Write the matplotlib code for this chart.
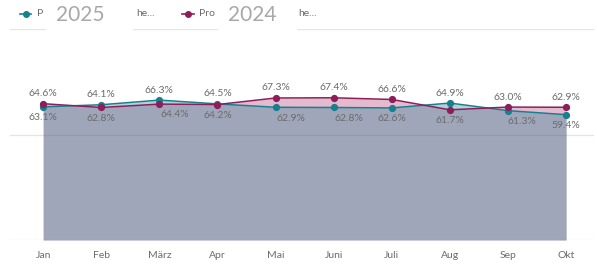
import matplotlib.pyplot as plt
from matplotlib.lines import Line2D
from matplotlib.patches import Rectangle

months = ["Jan", "Feb", "März", "Apr", "Mai", "Juni", "Juli", "Aug", "Sep", "Okt"]
y2025 = [63.1, 64.1, 66.3, 64.5, 62.9, 62.8, 62.6, 64.9, 61.3, 59.4]
y2024 = [64.6, 62.8, 64.4, 64.2, 67.3, 67.4, 66.6, 61.7, 63.0, 62.9]

teal = "#17808f"
maroon = "#8e1e5a"
grey_txt = "#6b6b6b"

plt.rcParams["font.family"] = ["Lato", "DejaVu Sans"]

W, H = 597, 266
fig = plt.figure(figsize=(W / 100, H / 100), dpi=100)
ax = fig.add_axes([10 / W, 26 / H, 584 / W, 211 / H])

x = list(range(len(months)))

# area fills (alpha overlap gives the grey-blue base)
ax.fill_between(x, 0, y2024, color="#a8205f", alpha=0.3, linewidth=0, zorder=2)
ax.fill_between(x, 0, y2025, color="#1a7f94", alpha=0.34, linewidth=0, zorder=2)

ax.plot(x, y2025, color=teal, lw=1.1, marker="o", ms=4.2, zorder=4)
ax.plot(x, y2024, color=maroon, lw=1.1, marker="o", ms=4.2, zorder=5)

# gridlines
for g in (0, 50, 100):
    ax.axhline(g, color="#e4e4e4", lw=0.9, zorder=1)

# data labels: higher value above, lower below
nudge = {2: 11, 4: 11, 5: 11, 8: 10}
for i in x:
    hi, lo = max(y2025[i], y2024[i]), min(y2025[i], y2024[i])
    ax.annotate(f"{hi:.1f}%", (i, hi), xytext=(0, 4), textcoords="offset points",
                ha="center", va="bottom", fontsize=7.5, color=grey_txt, zorder=6)
    ax.annotate(f"{lo:.1f}%", (i, lo), xytext=(nudge.get(i, 0), -4.5),
                textcoords="offset points", ha="center", va="top",
                fontsize=7.5, color=grey_txt, zorder=6)

ax.set_xlim(-0.57, 9.48)
ax.set_ylim(0, 100)
ax.set_xticks(x)
ax.set_xticklabels(months)
ax.tick_params(axis="x", length=0, pad=8, labelsize=7.5, labelcolor=grey_txt)
ax.set_yticks([])
for s in ax.spines.values():
    s.set_visible(False)


# legend (partly hidden behind white boxes with the year)
def fx(px):
    return px / W


def fy(py):
    return 1 - py / H


for cx, col in ((25.5, teal), (188, maroon)):
    fig.add_artist(Line2D([fx(cx - 5.5), fx(cx + 5.5)], [fy(14), fy(14)],
                          color=col, lw=1.2, marker=None))
    fig.add_artist(Line2D([fx(cx)], [fy(14)], color=col, marker="o", ms=4))

fig.text(fx(37), fy(14), "P", fontsize=7.5, color=grey_txt, va="center")
fig.text(fx(136), fy(14), "he...", fontsize=7.5, color=grey_txt, va="center")
fig.text(fx(199), fy(14), "Pro", fontsize=7.5, color=grey_txt, va="center")
fig.text(fx(298), fy(14), "he...", fontsize=7.5, color=grey_txt, va="center")

for x0, x1, year in ((46, 133, "2025"), (218, 297, "2024")):
    fig.add_artist(Rectangle((fx(x0), fy(32)), fx(x1) - fx(x0), fy(0) - fy(32),
                             facecolor="white", edgecolor="none", zorder=10))
    fig.text(fx(x0 + 10), fy(15), year, fontsize=15, color="#a8a8a8",
             va="center", ha="left", zorder=11)

fig.savefig("out.png", dpi=100)
